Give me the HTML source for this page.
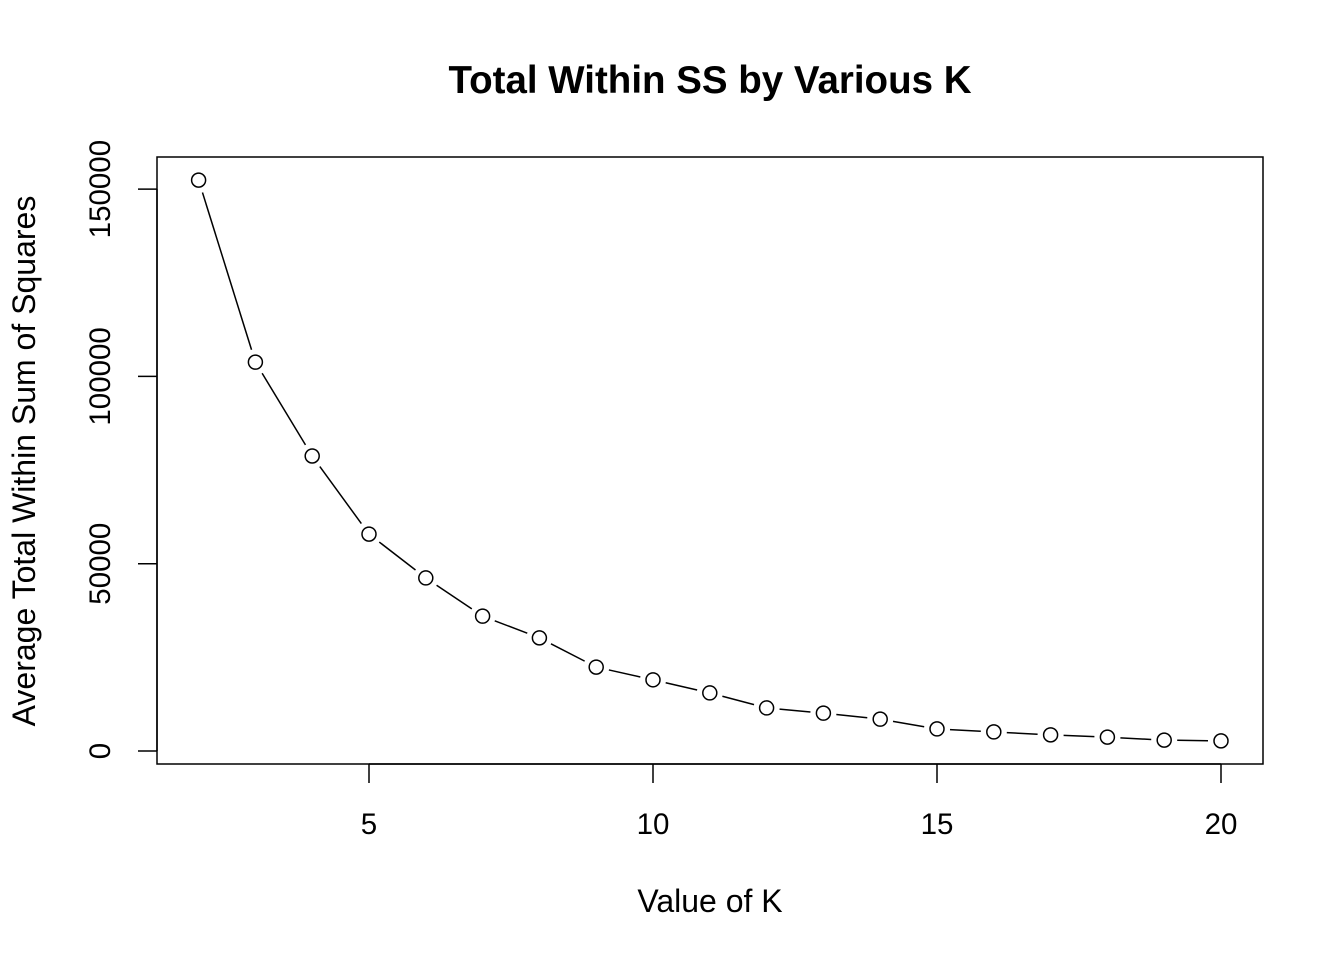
<!DOCTYPE html>
<html><head><meta charset="utf-8"><style>
body{margin:0;background:#fff;}
svg text{font-family:"Liberation Sans",Arial,sans-serif;}
</style></head><body>
<svg id="chart" width="1344" height="960" xmlns="http://www.w3.org/2000/svg">
<text x="710" y="93" text-anchor="middle" font-size="38.5" font-weight="bold">Total Within SS by Various K</text>
<rect x="157" y="157" width="1106" height="607" fill="none" stroke="#000" stroke-width="1.5"/>
<text x="710" y="912" text-anchor="middle" font-size="32">Value of K</text>
<text transform="translate(35,461) rotate(-90)" text-anchor="middle" font-size="32">Average Total Within Sum of Squares</text>
<g id="axes"></g>
<g id="marks"></g>
</svg>
<script>
const kValues=[2,3,4,5,6,7,8,9,10,11,12,13,14,15,16,17,18,19,20];
const wssValues=[152400,103800,78750,57900,46200,36000,30200,22400,19000,15500,11500,10100,8500,5900,5100,4300,3700,2900,2700];
const xTicks=[5,10,15,20];
const yTicks=[0,50000,100000,150000];
const NS='http://www.w3.org/2000/svg';
function xs(v){return 369+(v-5)*56.8;}
function ys(v){return 751-v*187.3/50000;}
const axes=document.getElementById('axes'),marks=document.getElementById('marks');
function mk(tag,attrs,parent){const e=document.createElementNS(NS,tag);for(const k in attrs)e.setAttribute(k,attrs[k]);parent.appendChild(e);return e;}
let xl=mk('line',{x1:xs(xTicks[0]),x2:xs(xTicks[xTicks.length-1]),y1:764,y2:764,stroke:'#000','stroke-width':1.5},axes);


xTicks.forEach(t=>{
 const l=mk('line',{x1:xs(t),x2:xs(t),y1:764,y2:783,stroke:'#000','stroke-width':1.5},axes);
 
 
 const tx=mk('text',{x:xs(t),y:834,'text-anchor':'middle','font-size':29.5},axes);tx.textContent=t;
 
 
});
let yl=mk('line',{x1:157,x2:157,y1:ys(yTicks[0]),y2:ys(yTicks[yTicks.length-1]),stroke:'#000','stroke-width':1.5},axes);


yTicks.forEach(t=>{
 const l=mk('line',{x1:138,x2:157,y1:ys(t),y2:ys(t),stroke:'#000','stroke-width':1.5},axes);
 
 
 const tx=mk('text',{transform:`translate(110,${ys(t)}) rotate(-90)`,'text-anchor':'middle','font-size':29.5},axes);tx.textContent=t;
 
 
});
for(let i=0;i<kValues.length-1;i++){
 const x1=xs(kValues[i]),y1=ys(wssValues[i]),x2=xs(kValues[i+1]),y2=ys(wssValues[i+1]);
 const d=Math.hypot(x2-x1,y2-y1),g=13;
 if(d<=2*g)continue;
 const ux=(x2-x1)/d,uy=(y2-y1)/d;
 const s=mk('line',{x1:x1+ux*g,y1:y1+uy*g,x2:x2-ux*g,y2:y2-uy*g,stroke:'#000','stroke-width':1.5},marks);
 
 
}
kValues.forEach((k,i)=>{
 const c=mk('circle',{cx:xs(k),cy:ys(wssValues[i]),r:7,fill:'#fff',stroke:'#000','stroke-width':1.5},marks);
 
 
});
</script>
</body></html>
